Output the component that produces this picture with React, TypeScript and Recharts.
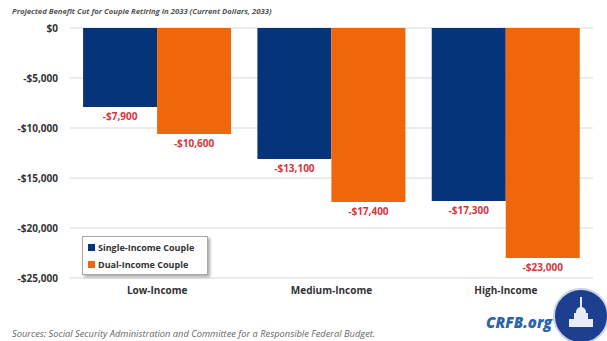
import React from 'react';
import { BarChart, Bar, XAxis, YAxis, CartesianGrid, LabelList } from 'recharts';

const categories = ['Low-Income', 'Medium-Income', 'High-Income'];
const singleIncome = [-7900, -13100, -17300];
const dualIncome = [-10600, -17400, -23000];
const yTicks = [0, -5000, -10000, -15000, -20000, -25000];

const data = categories.map((c, i) => ({ name: c, single: singleIncome[i], dual: dualIncome[i] }));

const BLUE = '#06347a';
const ORANGE = '#f0660a';
const RED = '#d8343c';
const FONT = '"Open Sans", "Liberation Sans", sans-serif';

const fmt = (v: number) => (v === 0 ? '$0' : '-$' + Math.abs(v).toLocaleString('en-US'));

const BelowLabel = (props: any) => {
  const { x, y, width, height, value } = props;
  const bottom = Math.max(Number(y), Number(y) + Number(height));
  return (
    <text
      x={Number(x) + Number(width) / 2}
      y={bottom + 13}
      textAnchor="middle"
      style={{ fontFamily: FONT, fontWeight: 700, fontSize: 10, fill: RED }}
    >
      {fmt(Number(value))}
    </text>
  );
};

const LegendBox = () => (
  <div
    style={{
      position: 'absolute',
      left: 82,
      top: 236,
      width: 126,
      height: 39,
      border: '1px solid #a8a8a8',
      boxShadow: '2px 2px 3px rgba(0,0,0,0.35)',
      background: '#fff',
      fontFamily: FONT,
      fontWeight: 700,
      fontSize: 9,
      color: '#333',
      boxSizing: 'border-box',
      padding: '2px 0 0 5px',
    }}
  >
    {[
      { c: BLUE, t: 'Single-Income Couple' },
      { c: ORANGE, t: 'Dual-Income Couple' },
    ].map((it) => (
      <div key={it.t} style={{ display: 'flex', alignItems: 'center', height: 17 }}>
        <span style={{ width: 7, height: 7, background: it.c, display: 'inline-block', marginRight: 3 }} />
        <span>{it.t}</span>
      </div>
    ))}
  </div>
);

export default function App() {
  return (
    <div style={{ position: 'absolute', left: 0, top: 0, width: 607, height: 341, background: '#fff', overflow: 'hidden' }}>
      <div
        style={{
          position: 'absolute',
          left: 12,
          top: 6,
          fontFamily: FONT,
          fontStyle: 'italic',
          fontWeight: 700,
          fontSize: 7.7,
          color: '#555',
          whiteSpace: 'nowrap',
        }}
      >
        Projected Benefit Cut for Couple Retiring in 2033 (Current Dollars, 2033)
      </div>
      <BarChart
        width={607}
        height={341}
        data={data}
        margin={{ top: 28, right: 14, bottom: 33, left: 0 }}
        barGap={0}
        barCategoryGap="7.5%"
      >
        <CartesianGrid horizontal vertical={false} stroke="#d9d9d9" />
        <XAxis
          dataKey="name"
          orientation="bottom"
          axisLine={false}
          tickLine={false}
          tickSize={0}
          tickMargin={9}
          height={30}
          tick={{ fontFamily: FONT, fontWeight: 700, fontSize: 10, fill: '#333' }}
        />
        <YAxis
          width={70}
          domain={[-25000, 0]}
          ticks={yTicks}
          tickFormatter={fmt}
          axisLine={false}
          tickLine={false}
          tickSize={0}
          tickMargin={12}
          tick={{ fontFamily: FONT, fontWeight: 700, fontSize: 10, fill: '#333' }}
        />
        <Bar dataKey="single" fill={BLUE} isAnimationActive={false}>
          <LabelList dataKey="single" content={BelowLabel} />
        </Bar>
        <Bar dataKey="dual" fill={ORANGE} isAnimationActive={false}>
          <LabelList dataKey="dual" content={BelowLabel} />
        </Bar>
      </BarChart>
      <LegendBox />
      <div
        style={{
          position: 'absolute',
          left: 12,
          top: 327,
          fontFamily: FONT,
          fontStyle: 'italic',
          fontSize: 9.3,
          color: '#666',
          whiteSpace: 'nowrap',
        }}
      >
        Sources: Social Security Administration and Committee for a Responsible Federal Budget.
      </div>
      <div
        style={{
          position: 'absolute',
          left: 486,
          top: 312,
          fontFamily: FONT,
          fontStyle: 'italic',
          fontWeight: 800,
          fontSize: 15,
          color: '#2b64b0',
          whiteSpace: 'nowrap',
        }}
      >
        CRFB.org
      </div>
      <svg style={{ position: 'absolute', left: 550, top: 285 }} width={57} height={56}>
        <circle cx={31} cy={31} r={27} fill="#1d3f8f" stroke="#c8d2e6" strokeWidth={2} />
        <rect x={19} y={34} width={24} height={8} fill="#e8ecf5" />
        <rect x={24} y={28} width={14} height={6} fill="#e8ecf5" />
        <circle cx={31} cy={27} r={5} fill="#e8ecf5" />
        <rect x={30} y={12} width={2} height={12} fill="#e8ecf5" />
      </svg>
    </div>
  );
}
